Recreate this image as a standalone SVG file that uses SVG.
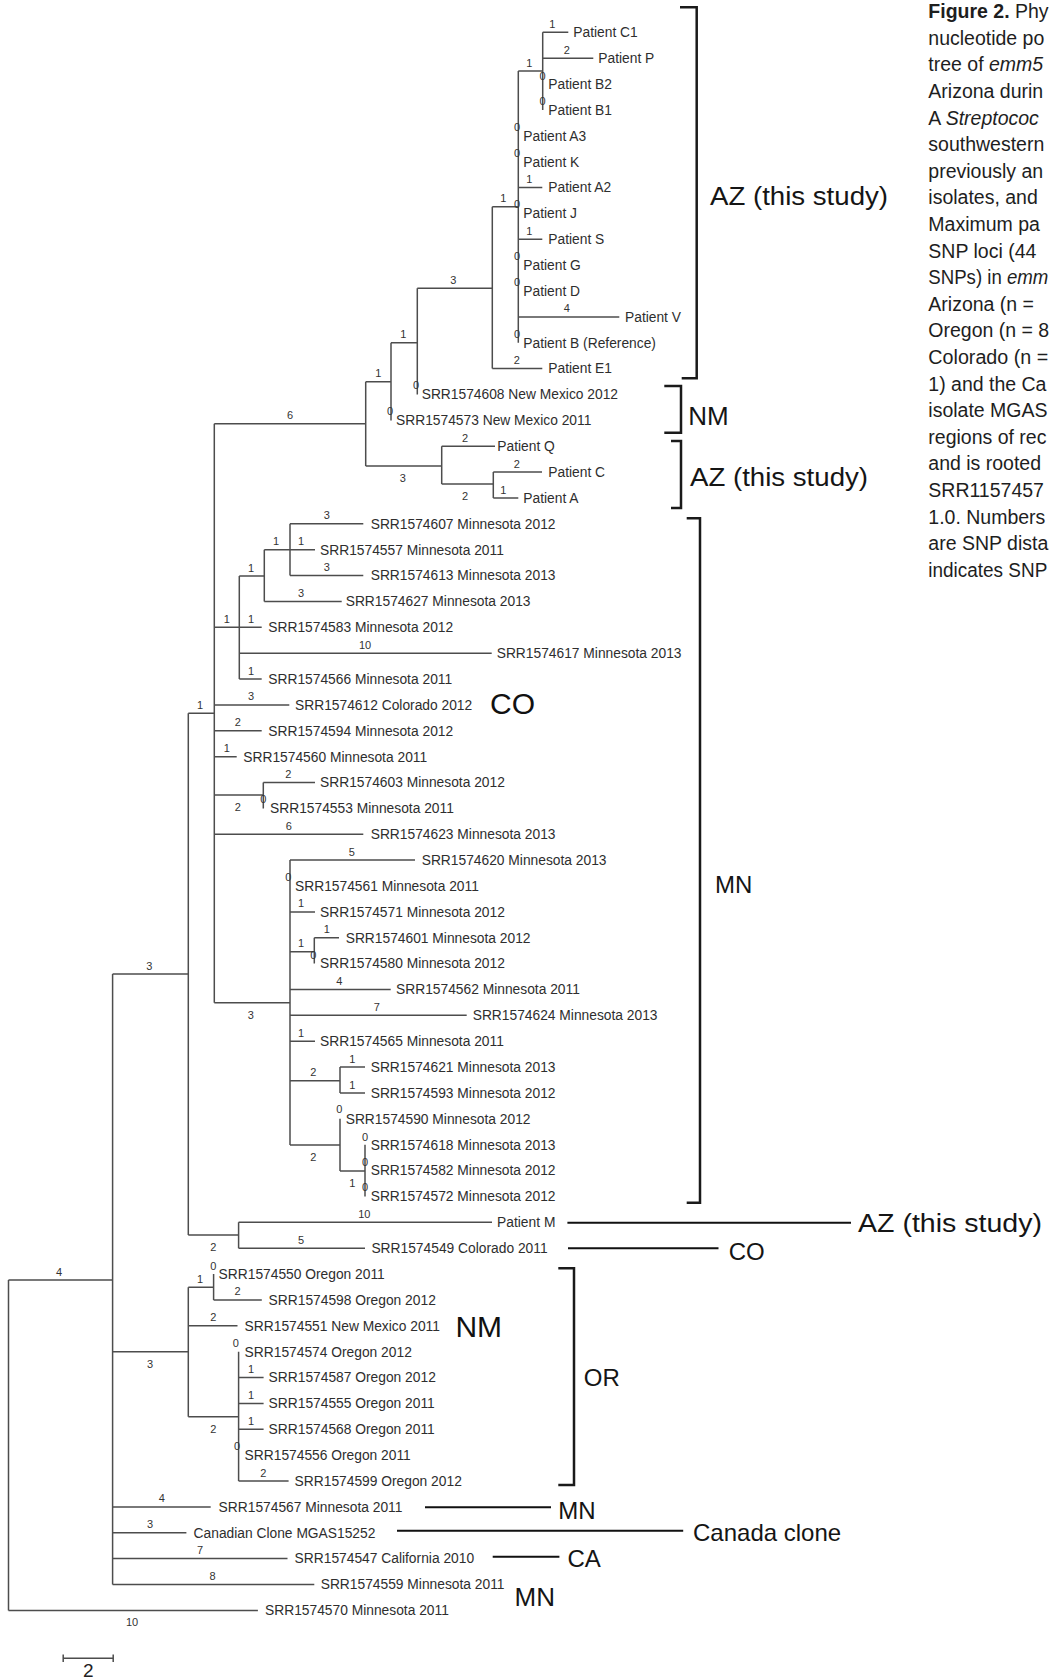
<svg xmlns="http://www.w3.org/2000/svg" width="1051" height="1679" viewBox="0 0 1051 1679">
<style>
text{font-family:"Liberation Sans",Arial,sans-serif}
.br{fill:none;stroke:#4d4d4d;stroke-width:1.5}
.lf{font-size:13.8px;fill:#2e2e2e}
.bl{font-size:11px;fill:#333;text-anchor:middle}
.big{font-size:26px;fill:#151515}
.mid{font-size:24px;fill:#151515}
.inl{font-size:30px;fill:#111}
.brk{fill:none;stroke:#1a1a1a;stroke-width:2.5}
.cn{fill:none;stroke:#111;stroke-width:2}
.cap{font-size:19.5px;fill:#1e1e1e}
</style>
<rect width="1051" height="1679" fill="#fff"/>
<g id="connectors">
<path class="br" d="M8.5 1280V1610.4M8.5 1280H112.6M8.5 1610.4H257.9
M112.6 974V1584.5M112.6 974H188.3M112.6 1351.7H188.3M112.6 1506.9H210.7M112.6 1532.8H186.4M112.6 1558.6H287.5M112.6 1584.5H314.3
M188.3 713.3V1235M188.3 713.3H214.3M188.3 1235H238.6M238.6 1222.3V1248.2M238.6 1222.3H492M238.6 1248.2H365
M188.3 1287.3V1416.7M188.3 1287.3H213.6M213.6 1274.1V1299.9M213.6 1299.9H261.8M188.3 1325.8H237.5M188.3 1416.7H238.6M238.6 1351.7V1481M238.6 1377.5H263.6M238.6 1403.4H263.6M238.6 1429.3H263.6M238.6 1481H288.6
M214.3 423.8V1002.7M214.3 423.8H365.7M365.7 381.7V466M365.7 381.7H391M391 342.7V420.4M391 342.7H417.3M417.3 288.3V394.5M417.3 288.3H492.3M492.3 206.7V368.6M492.3 206.7H518.3M518.3 71V342.7M518.3 71H542.7M542.7 32.3V109.9M542.7 32.3H568.3M542.7 58.2H593.3M518.3 187.5H542.3M518.3 239.3H542.3M518.3 316.9H619.3M492.3 368.6H542.3
M365.7 466H441.7M441.7 446.2V484M441.7 446.2H495M441.7 484H493.3M493.3 472.1V498M493.3 472.1H542M493.3 498H518.3
M214.3 627.3H239.3M239.3 576V679.1M239.3 576H264.3M264.3 549.7V601.4M264.3 549.7H290M290 523.8V575.6M290 523.8H363.3M290 549.7H315M290 575.6H363.3M264.3 601.4H341.7M239.3 627.3H261.7M239.3 653.2H491.7M239.3 679.1H261.7
M214.3 704.9H289.3M214.3 730.8H261.7M214.3 756.7H236.7M214.3 795H263.3M263.3 782.5V808.4M263.3 782.5H315M214.3 834.3H363.3
M214.3 1002.7H290M290 860.1V1145M290 860.1H415M290 911.9H315M290 951.7H314.3M314.3 937.7V963.6M314.3 937.7H339M290 989.5H390.7M290 1015.3H466.7M290 1041.2H315M290 1080.7H340M340 1067.1V1093M340 1067.1H365M340 1093H365M290 1145H340M340 1118.8V1171M340 1171H365M365 1144.7V1196.4"/>
</g>
<g id="branch-lengths">
<text class="bl" x="552.3" y="27.8">1</text>
<text class="bl" x="566.7" y="53.7">2</text>
<text class="bl" x="542.5" y="80">0</text>
<text class="bl" x="542.5" y="105">0</text>
<text class="bl" x="529.3" y="66.5">1</text>
<text class="bl" x="517" y="131">0</text>
<text class="bl" x="517" y="157">0</text>
<text class="bl" x="529.3" y="183">1</text>
<text class="bl" x="517" y="207.5">0</text>
<text class="bl" x="529.3" y="234.8">1</text>
<text class="bl" x="517" y="260">0</text>
<text class="bl" x="517" y="286">0</text>
<text class="bl" x="566.7" y="312.4">4</text>
<text class="bl" x="517" y="337.6">0</text>
<text class="bl" x="503.3" y="202.2">1</text>
<text class="bl" x="516.7" y="364.1">2</text>
<text class="bl" x="453.3" y="283.8">3</text>
<text class="bl" x="416" y="389.4">0</text>
<text class="bl" x="403.3" y="338.2">1</text>
<text class="bl" x="390" y="415.3">0</text>
<text class="bl" x="378.3" y="377.2">1</text>
<text class="bl" x="290" y="419.3">6</text>
<text class="bl" x="402.7" y="482">3</text>
<text class="bl" x="465" y="441.7">2</text>
<text class="bl" x="465" y="500">2</text>
<text class="bl" x="516.7" y="467.6">2</text>
<text class="bl" x="503.3" y="493.5">1</text>
<text class="bl" x="326.7" y="519.3">3</text>
<text class="bl" x="276" y="545.2">1</text>
<text class="bl" x="301" y="545.2">1</text>
<text class="bl" x="326.7" y="571.1">3</text>
<text class="bl" x="251" y="571.5">1</text>
<text class="bl" x="301" y="596.9">3</text>
<text class="bl" x="226.7" y="622.8">1</text>
<text class="bl" x="251" y="622.8">1</text>
<text class="bl" x="365" y="648.7">10</text>
<text class="bl" x="251" y="674.6">1</text>
<text class="bl" x="251" y="700.4">3</text>
<text class="bl" x="200" y="708.8">1</text>
<text class="bl" x="237.7" y="726.3">2</text>
<text class="bl" x="226.7" y="752.2">1</text>
<text class="bl" x="288.3" y="778">2</text>
<text class="bl" x="237.7" y="811">2</text>
<text class="bl" x="263.3" y="803.3">0</text>
<text class="bl" x="288.7" y="829.8">6</text>
<text class="bl" x="351.7" y="855.6">5</text>
<text class="bl" x="288.3" y="881">0</text>
<text class="bl" x="301" y="907.4">1</text>
<text class="bl" x="301" y="947.2">1</text>
<text class="bl" x="326.7" y="933.2">1</text>
<text class="bl" x="313.3" y="958.5">0</text>
<text class="bl" x="339.3" y="985">4</text>
<text class="bl" x="376.7" y="1010.8">7</text>
<text class="bl" x="250.7" y="1018.7">3</text>
<text class="bl" x="149.3" y="969.5">3</text>
<text class="bl" x="301" y="1036.7">1</text>
<text class="bl" x="313.3" y="1076.2">2</text>
<text class="bl" x="352.3" y="1062.6">1</text>
<text class="bl" x="352.3" y="1088.5">1</text>
<text class="bl" x="339.3" y="1113.3">0</text>
<text class="bl" x="313.3" y="1161">2</text>
<text class="bl" x="365" y="1140.7">0</text>
<text class="bl" x="365" y="1165.5">0</text>
<text class="bl" x="352.3" y="1186.7">1</text>
<text class="bl" x="365" y="1191.3">0</text>
<text class="bl" x="364.3" y="1217.8">10</text>
<text class="bl" x="213.2" y="1251">2</text>
<text class="bl" x="301" y="1243.7">5</text>
<text class="bl" x="59" y="1275.5">4</text>
<text class="bl" x="200" y="1282.8">1</text>
<text class="bl" x="213.2" y="1270">0</text>
<text class="bl" x="237.5" y="1295.4">2</text>
<text class="bl" x="213.2" y="1321.3">2</text>
<text class="bl" x="150" y="1367.7">3</text>
<text class="bl" x="235.7" y="1346.6">0</text>
<text class="bl" x="251" y="1373">1</text>
<text class="bl" x="251" y="1398.9">1</text>
<text class="bl" x="251" y="1424.8">1</text>
<text class="bl" x="213.2" y="1432.7">2</text>
<text class="bl" x="237" y="1450">0</text>
<text class="bl" x="263.2" y="1476.5">2</text>
<text class="bl" x="161.8" y="1502.4">4</text>
<text class="bl" x="150" y="1528.3">3</text>
<text class="bl" x="200" y="1554.1">7</text>
<text class="bl" x="212.5" y="1580">8</text>
<text class="bl" x="132" y="1626.4">10</text>
</g>
<g id="leaves">
<g id="n0"><text class="lf" x="573.3" y="37.1">Patient C1</text></g>
<g id="n1"><text class="lf" x="598.3" y="63">Patient P</text></g>
<g id="n2"><text class="lf" x="548.3" y="88.8">Patient B2</text></g>
<g id="n3"><text class="lf" x="548.3" y="114.7">Patient B1</text></g>
<g id="n4"><text class="lf" x="523.3" y="140.6">Patient A3</text></g>
<g id="n5"><text class="lf" x="523.3" y="166.5">Patient K</text></g>
<g id="n6"><text class="lf" x="548.3" y="192.3">Patient A2</text></g>
<g id="n7"><text class="lf" x="523.3" y="218.2">Patient J</text></g>
<g id="n8"><text class="lf" x="548.3" y="244.1">Patient S</text></g>
<g id="n9"><text class="lf" x="523.3" y="269.9">Patient G</text></g>
<g id="n10"><text class="lf" x="523.3" y="295.8">Patient D</text></g>
<g id="n11"><text class="lf" x="625" y="321.7">Patient V</text></g>
<g id="n12"><text class="lf" x="523.3" y="347.5">Patient B (Reference)</text></g>
<g id="n13"><text class="lf" x="548.3" y="373.4">Patient E1</text></g>
<g id="n14"><text class="lf" x="421.7" y="399.3">SRR1574608 New Mexico 2012</text></g>
<g id="n15"><text class="lf" x="396" y="425.2">SRR1574573 New Mexico 2011</text></g>
<g id="n16"><text class="lf" x="497.3" y="451">Patient Q</text></g>
<g id="n17"><text class="lf" x="548.3" y="476.9">Patient C</text></g>
<g id="n18"><text class="lf" x="523.3" y="502.8">Patient A</text></g>
<g id="n19"><text class="lf" x="370.7" y="528.6">SRR1574607 Minnesota 2012</text></g>
<g id="n20"><text class="lf" x="320" y="554.5">SRR1574557 Minnesota 2011</text></g>
<g id="n21"><text class="lf" x="370.7" y="580.4">SRR1574613 Minnesota 2013</text></g>
<g id="n22"><text class="lf" x="345.7" y="606.2">SRR1574627 Minnesota 2013</text></g>
<g id="n23"><text class="lf" x="268.3" y="632.1">SRR1574583 Minnesota 2012</text></g>
<g id="n24"><text class="lf" x="496.7" y="658">SRR1574617 Minnesota 2013</text></g>
<g id="n25"><text class="lf" x="268.3" y="683.9">SRR1574566 Minnesota 2011</text></g>
<g id="n26"><text class="lf" x="295" y="709.7">SRR1574612 Colorado 2012</text></g>
<g id="n27"><text class="lf" x="268.3" y="735.6">SRR1574594 Minnesota 2012</text></g>
<g id="n28"><text class="lf" x="243.3" y="761.5">SRR1574560 Minnesota 2011</text></g>
<g id="n29"><text class="lf" x="320" y="787.3">SRR1574603 Minnesota 2012</text></g>
<g id="n30"><text class="lf" x="270" y="813.2">SRR1574553 Minnesota 2011</text></g>
<g id="n31"><text class="lf" x="370.7" y="839.1">SRR1574623 Minnesota 2013</text></g>
<g id="n32"><text class="lf" x="421.7" y="864.9">SRR1574620 Minnesota 2013</text></g>
<g id="n33"><text class="lf" x="295" y="890.8">SRR1574561 Minnesota 2011</text></g>
<g id="n34"><text class="lf" x="320" y="916.7">SRR1574571 Minnesota 2012</text></g>
<g id="n35"><text class="lf" x="345.7" y="942.5">SRR1574601 Minnesota 2012</text></g>
<g id="n36"><text class="lf" x="320" y="968.4">SRR1574580 Minnesota 2012</text></g>
<g id="n37"><text class="lf" x="396" y="994.3">SRR1574562 Minnesota 2011</text></g>
<g id="n38"><text class="lf" x="472.7" y="1020.1">SRR1574624 Minnesota 2013</text></g>
<g id="n39"><text class="lf" x="320" y="1046">SRR1574565 Minnesota 2011</text></g>
<g id="n40"><text class="lf" x="370.7" y="1071.9">SRR1574621 Minnesota 2013</text></g>
<g id="n41"><text class="lf" x="370.7" y="1097.8">SRR1574593 Minnesota 2012</text></g>
<g id="n42"><text class="lf" x="345.7" y="1123.6">SRR1574590 Minnesota 2012</text></g>
<g id="n43"><text class="lf" x="370.7" y="1149.5">SRR1574618 Minnesota 2013</text></g>
<g id="n44"><text class="lf" x="370.7" y="1175.4">SRR1574582 Minnesota 2012</text></g>
<g id="n45"><text class="lf" x="370.7" y="1201.2">SRR1574572 Minnesota 2012</text></g>
<g id="n46"><text class="lf" x="497.1" y="1227.1">Patient M</text></g>
<g id="n47"><text class="lf" x="371.4" y="1253">SRR1574549 Colorado 2011</text></g>
<g id="n48"><text class="lf" x="218.6" y="1278.9">SRR1574550 Oregon 2011</text></g>
<g id="n49"><text class="lf" x="268.6" y="1304.7">SRR1574598 Oregon 2012</text></g>
<g id="n50"><text class="lf" x="244.6" y="1330.6">SRR1574551 New Mexico 2011</text></g>
<g id="n51"><text class="lf" x="244.6" y="1356.5">SRR1574574 Oregon 2012</text></g>
<g id="n52"><text class="lf" x="268.6" y="1382.3">SRR1574587 Oregon 2012</text></g>
<g id="n53"><text class="lf" x="268.6" y="1408.2">SRR1574555 Oregon 2011</text></g>
<g id="n54"><text class="lf" x="268.6" y="1434.1">SRR1574568 Oregon 2011</text></g>
<g id="n55"><text class="lf" x="244.6" y="1460">SRR1574556 Oregon 2011</text></g>
<g id="n56"><text class="lf" x="294.6" y="1485.8">SRR1574599 Oregon 2012</text></g>
<g id="n57"><text class="lf" x="218.6" y="1511.7">SRR1574567 Minnesota 2011</text></g>
<g id="n58"><text class="lf" x="193.6" y="1537.6">Canadian Clone MGAS15252</text></g>
<g id="n59"><text class="lf" x="294.6" y="1563.4">SRR1574547 California 2010</text></g>
<g id="n60"><text class="lf" x="320.7" y="1589.3">SRR1574559 Minnesota 2011</text></g>
<g id="n61"><text class="lf" x="265" y="1615.2">SRR1574570 Minnesota 2011</text></g>
</g>
<g id="inline-labels">
<text class="inl" x="490" y="713.8">CO</text>
<text class="inl" x="455.4" y="1336.8">NM</text>
</g>
<g id="brackets">
<path class="brk" d="M680 7.3H696.7V378.3H681.7"/>
<path class="brk" d="M664.3 386H681V432.7H664.3"/>
<path class="brk" d="M671 441H681V508H671"/>
<path class="brk" d="M686.7 518.3H700V1202.7H686.7"/>
<path class="brk" d="M558.3 1268.3H574V1485H558.3"/>
<path class="cn" d="M567.4 1222.7H851M568 1248.3H718.5M425 1507.3H551M397 1530.7H683.2M492.7 1556.7H559.4"/>
<text class="big" x="710" y="205.4" textLength="178" lengthAdjust="spacingAndGlyphs">AZ (this study)</text>
<text class="big" x="688.3" y="425.4">NM</text>
<text class="big" x="690" y="485.5" textLength="178" lengthAdjust="spacingAndGlyphs">AZ (this study)</text>
<text class="mid" x="715" y="892.6">MN</text>
<text class="big" x="858" y="1232.4" textLength="184" lengthAdjust="spacingAndGlyphs">AZ (this study)</text>
<text class="mid" x="728.7" y="1259.6">CO</text>
<text class="mid" x="583.8" y="1385.6">OR</text>
<text class="mid" x="558.3" y="1518.6">MN</text>
<text class="mid" x="693" y="1540.7">Canada clone</text>
<text class="mid" x="567.4" y="1567">CA</text>
<text class="big" x="514.6" y="1606">MN</text>
</g>
<g id="scale-bar">
<path class="br" d="M63.2 1658.3H113.2M63.2 1654.5V1662M113.2 1654.5V1662"/>
<text x="88.2" y="1676.5" style="font-size:19px;fill:#222;text-anchor:middle">2</text>
</g>
<g id="caption">
<text class="cap" x="928.3" y="18.2"><tspan font-weight="bold">Figure 2.</tspan> Phy</text>
<text class="cap" x="928.3" y="44.8">nucleotide po</text>
<text class="cap" x="928.3" y="71.4">tree of <tspan font-style="italic">emm5</tspan></text>
<text class="cap" x="928.3" y="98">Arizona durin</text>
<text class="cap" x="928.3" y="124.6">A <tspan font-style="italic">Streptococ</tspan></text>
<text class="cap" x="928.3" y="151.2">southwestern</text>
<text class="cap" x="928.3" y="177.8">previously an</text>
<text class="cap" x="928.3" y="204.4">isolates, and</text>
<text class="cap" x="928.3" y="231">Maximum pa</text>
<text class="cap" x="928.3" y="257.6">SNP loci (44</text>
<text class="cap" x="928.3" y="284.2" textLength="120" lengthAdjust="spacingAndGlyphs">SNPs) in <tspan font-style="italic">emm</tspan></text>
<text class="cap" x="928.3" y="310.8">Arizona (n =</text>
<text class="cap" x="928.3" y="337.4">Oregon (n = 8</text>
<text class="cap" x="928.3" y="364" textLength="120" lengthAdjust="spacingAndGlyphs">Colorado (n =</text>
<text class="cap" x="928.3" y="390.6">1) and the Ca</text>
<text class="cap" x="928.3" y="417.2">isolate MGAS</text>
<text class="cap" x="928.3" y="443.8">regions of rec</text>
<text class="cap" x="928.3" y="470.4">and is rooted</text>
<text class="cap" x="928.3" y="497">SRR1157457</text>
<text class="cap" x="928.3" y="523.6">1.0. Numbers</text>
<text class="cap" x="928.3" y="550.2">are SNP dista</text>
<text class="cap" x="928.3" y="576.8" textLength="119" lengthAdjust="spacingAndGlyphs">indicates SNP</text>
</g>
</svg>
